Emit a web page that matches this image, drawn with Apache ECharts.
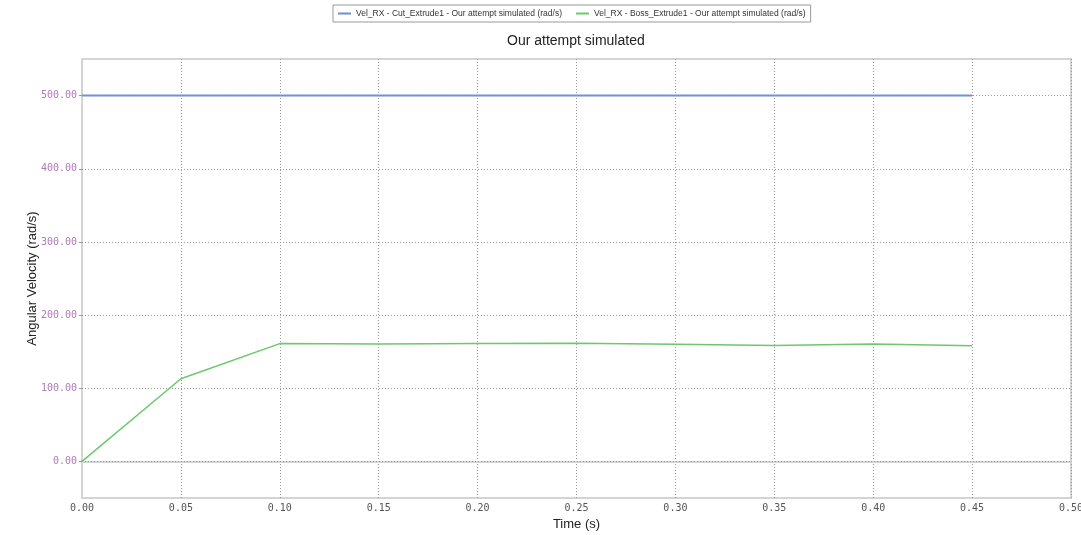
<!DOCTYPE html>
<html>
<head>
<meta charset="utf-8">
<script src="https://cdn.jsdelivr.net/npm/echarts@6/dist/echarts.min.js"></script>
<style>
html,body{margin:0;padding:0;background:#fff;}
#container{width:1081px;height:535px;}
</style>
</head>
<body>
<div id="container"></div>
<script>
// 数据
var times = [0.00, 0.05, 0.10, 0.15, 0.20, 0.25, 0.30, 0.35, 0.40, 0.45];
var cutVel = [500, 500, 500, 500, 500, 500, 500, 500, 500, 500];
var bossVel = [0, 113, 161, 160.5, 161, 161.5, 160, 158.5, 160.5, 158];
var yTicks = [0, 100, 200, 300, 400, 500];

var seriesNames = [
	'Vel_RX - Cut_Extrude1 - Our attempt simulated (rad/s)',
	'Vel_RX - Boss_Extrude1 - Our attempt simulated (rad/s)'
];

function pairs(xs, ys) {
	var out = [];
	for (var i = 0; i < xs.length; i++) {
		out.push([xs[i], ys[i]]);
	}
	return out;
}

var myChart = echarts.init(document.getElementById('container'));

// 横向网格线 (只在 0,100,...,500)
var gridLines = [];
for (var i = 0; i < yTicks.length; i++) {
	gridLines.push({yAxis: yTicks[i]});
}

var option = {
	animation: false,
	title: {
		text: 'Our attempt simulated',
		left: 502,
		top: 29,
		textStyle: {
			color: '#222',
			fontFamily: 'Liberation Sans',
			fontSize: 14,
			fontWeight: 'normal'
		}
	},
	legend: {
		top: 5,
		left: 333,
		data: seriesNames,
		borderColor: '#999',
		borderWidth: 1,
		padding: [4, 5],
		itemGap: 14,
		itemWidth: 13,
		itemHeight: 2,
		icon: 'rect',
		textStyle: {
			color: '#333',
			fontFamily: 'Liberation Sans',
			fontSize: 8.5
		}
	},
	grid: {
		left: 82,
		top: 59,
		right: 10,
		bottom: 37,
		outerBoundsMode: 'none',
		show: true,
		borderColor: '#d4d4d4',
		borderWidth: 2
	},
	xAxis: {
		type: 'value',
		min: 0,
		max: 0.5,
		interval: 0.05,
		name: 'Time (s)',
		nameLocation: 'middle',
		nameGap: 18,
		nameTextStyle: {
			color: '#222',
			fontFamily: 'Liberation Sans',
			fontSize: 13
		},
		axisLine: {show: true, lineStyle: {color: '#d4d4d4', width: 2}},
		axisTick: {show: false},
		axisLabel: {
			color: '#555',
			fontFamily: 'DejaVu Sans Mono',
			fontSize: 10,
			margin: 5,
			formatter: function(v) { return v.toFixed(2); }
		},
		splitLine: {show: true, lineStyle: {color: '#999', type: [1, 2], width: 1}}
	},
	yAxis: {
		type: 'value',
		min: -50,
		max: 550,
		interval: 50,
		name: 'Angular Velocity (rad/s)',
		nameLocation: 'middle',
		nameGap: 43,
		nameMoveOverlap: false,
		nameTextStyle: {
			color: '#222',
			fontFamily: 'Liberation Sans',
			fontSize: 13
		},
		axisLine: {show: true, lineStyle: {color: '#d4d4d4', width: 2}},
		axisTick: {show: true, length: 3, customValues: yTicks, lineStyle: {color: '#999'}},
		axisLabel: {
			color: '#b07ab8',
			fontFamily: 'DejaVu Sans Mono',
			fontSize: 10,
			margin: 5,
			customValues: yTicks,
			formatter: function(v) { return v.toFixed(2); }
		},
		splitLine: {show: false}
	},
	series: [
		{
			name: 'grid',
			type: 'line',
			data: [],
			silent: true,
			markLine: {
				silent: true,
				symbol: ['none', 'none'],
				label: {show: false},
				lineStyle: {color: '#999', type: [1, 2], width: 1},
				data: gridLines
			}
		},
		{
			name: seriesNames[0],
			type: 'line',
			data: pairs(times, cutVel),
			showSymbol: false,
			lineStyle: {color: '#6b8fd2', width: 2},
			itemStyle: {color: '#6b8fd2'}
		},
		{
			name: seriesNames[1],
			type: 'line',
			data: pairs(times, bossVel),
			showSymbol: false,
			lineStyle: {color: '#6cc86c', width: 1.5},
			itemStyle: {color: '#6cc86c'}
		}
	]
};
myChart.setOption(option);
</script>
</body>
</html>
